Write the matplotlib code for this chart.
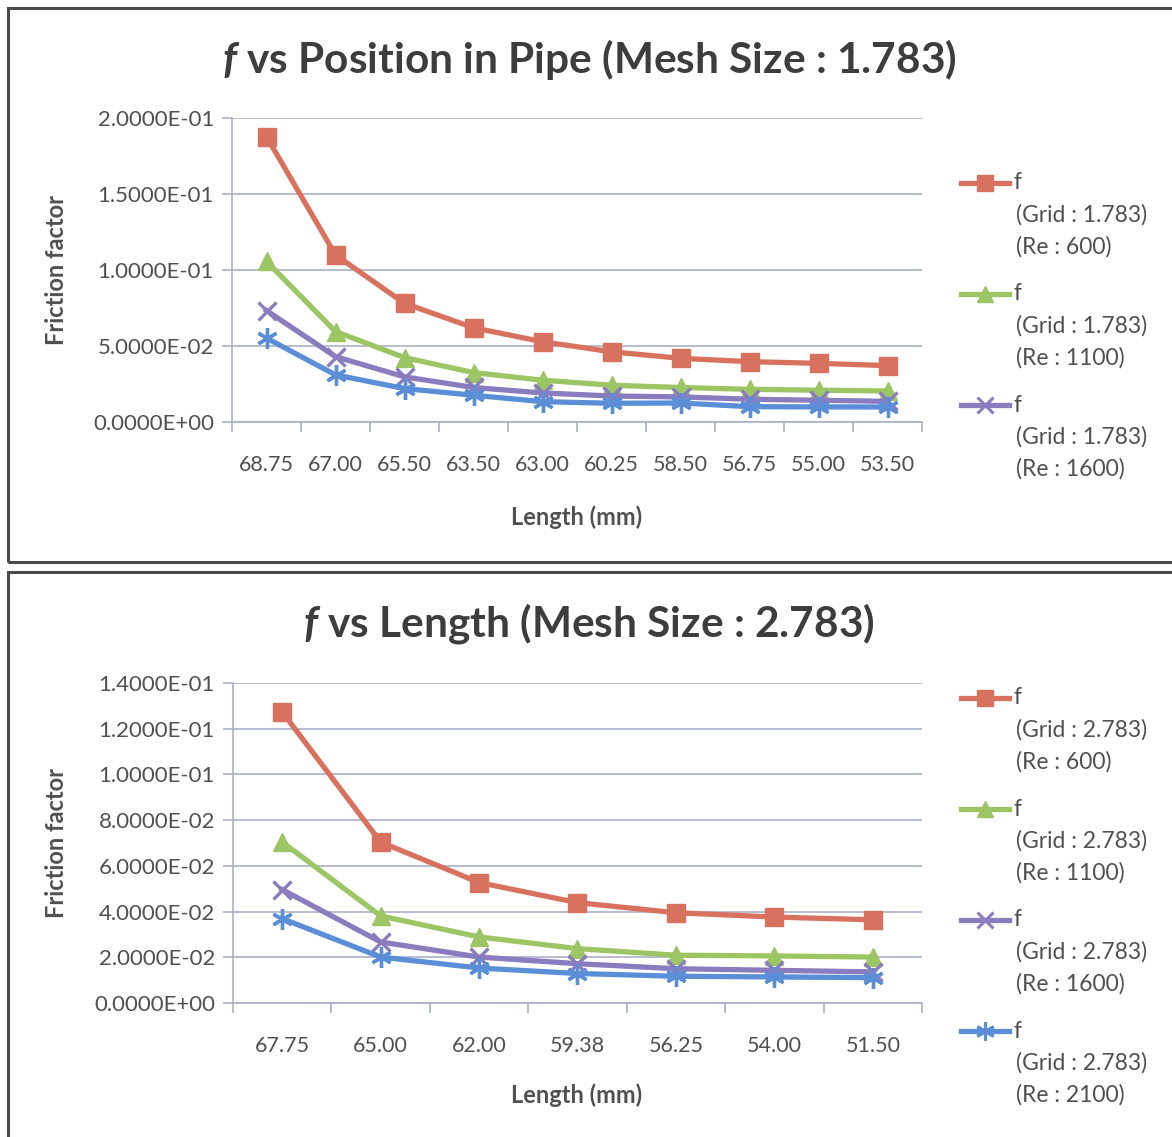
import matplotlib
matplotlib.use("Agg")
import matplotlib.pyplot as plt
from matplotlib.lines import Line2D
from matplotlib.patches import Rectangle
from matplotlib.ticker import FuncFormatter, MultipleLocator

plt.rcParams['font.family'] = ['Lato', 'DejaVu Sans']
plt.rcParams['mathtext.fontset'] = 'custom'
plt.rcParams['mathtext.it'] = 'Lato:italic:bold'
plt.rcParams['mathtext.rm'] = 'Lato:bold'

# ---- data: upper chart (mesh 1.783) ----
pos_a = ["68.75", "67.00", "65.50", "63.50", "63.00", "60.25", "58.50", "56.75", "55.00", "53.50"]
f_a_re600 = [0.1877, 0.1099, 0.0781, 0.0620, 0.0528, 0.0462, 0.0419, 0.0397, 0.0386, 0.0371]
f_a_re1100 = [0.1057, 0.0595, 0.0424, 0.0325, 0.0275, 0.0242, 0.0227, 0.0215, 0.0209, 0.0204]
f_a_re1600 = [0.0733, 0.0430, 0.0297, 0.0227, 0.0191, 0.0171, 0.0165, 0.0150, 0.0143, 0.0136]
f_a_re2100 = [0.0552, 0.0310, 0.0220, 0.0176, 0.0134, 0.0123, 0.0125, 0.0101, 0.0099, 0.0099]

# ---- data: lower chart (mesh 2.783) ----
pos_b = ["67.75", "65.00", "62.00", "59.38", "56.25", "54.00", "51.50"]
f_b_re600 = [0.1273, 0.0704, 0.0527, 0.0439, 0.0395, 0.0376, 0.0364]
f_b_re1100 = [0.0704, 0.0381, 0.0289, 0.0238, 0.0209, 0.0206, 0.0201]
f_b_re1600 = [0.0496, 0.0267, 0.0201, 0.0172, 0.0150, 0.0143, 0.0136]
f_b_re2100 = [0.0369, 0.0201, 0.0153, 0.0129, 0.0117, 0.0114, 0.0111]

reynolds = ["600", "1100", "1600", "2100"]

RED, GREEN, PURPLE, BLUE = '#D8725F', '#9CC564', '#8A7CBF', '#5A8FD8'
colors = [RED, GREEN, PURPLE, BLUE]
markers = ['s', '^', 'x', (6, 2, 0)]
msizes = [13.5, 13, 13, 15]
GRID = '#A9B1C9'
TXT = '#505050'

W, H = 1172, 1137
fig = plt.figure(figsize=(W / 100, H / 100), dpi=100)
fig.patch.set_facecolor('white')


def fx(px):
    return px / W


def fy(py):
    return 1 - py / H


# chart frames
fig.add_artist(Rectangle((fx(8), fy(562)), 1.2, (562 - 8) / H, transform=fig.transFigure,
                         fill=False, edgecolor='#4a4a4a', linewidth=2.2, clip_on=False))
fig.add_artist(Rectangle((fx(8), -0.2), 1.2, fy(572) + 0.2, transform=fig.transFigure,
                         fill=False, edgecolor='#4a4a4a', linewidth=2.2, clip_on=False))


def sci(v, _):
    return "{:.4E}".format(v)


def draw_chart(box, cats, series, ymax, ystep, title, title_y, grid_label, n_legend,
               legend_top, xlabel_y, ylabel_y):
    l, t, r, b = box
    ax = fig.add_axes([fx(l), fy(b), (r - l) / W, (b - t) / H])
    x = list(range(len(cats)))
    for k, vals in enumerate(series):
        mew = 2.4 if k >= 2 else 1
        ax.plot(x, vals, color=colors[k], lw=3.8, marker=markers[k], ms=msizes[k],
                mfc=colors[k], mec=colors[k], mew=mew, solid_joinstyle='round', zorder=3)
    ax.set_xlim(-0.5, len(cats) - 0.5)
    ax.set_ylim(0, ymax)
    ax.yaxis.set_major_locator(MultipleLocator(ystep))
    ax.yaxis.set_major_formatter(FuncFormatter(sci))
    ax.set_xticks(x)
    ax.set_xticklabels(cats)
    ax.set_xticks([i - 0.5 for i in range(len(cats) + 1)], minor=True)
    ax.tick_params(axis='x', which='major', length=0, pad=24, labelsize=15.5, labelcolor=TXT)
    ax.tick_params(axis='x', which='minor', length=7, color=GRID, width=1.2)
    ax.tick_params(axis='y', length=7, color=GRID, width=1.2, labelsize=16, labelcolor=TXT, pad=6)
    ax.grid(axis='y', color=GRID, lw=1.2)
    ax.set_axisbelow(True)
    for s in ('top', 'right'):
        ax.spines[s].set_visible(False)
    for s in ('left', 'bottom'):
        ax.spines[s].set_color(GRID)
        ax.spines[s].set_linewidth(1.2)
    fig.text(fx(589), fy(title_y), title, ha='center', va='center', fontsize=30.5,
             fontweight='bold', color='#3d3d3d')
    fig.text(fx(577), fy(xlabel_y), "Length (mm)", ha='center', va='center', fontsize=17,
             fontweight='bold', color=TXT)
    fig.text(fx(57), fy(ylabel_y), "Friction factor", ha='center', va='center', fontsize=17,
             fontweight='bold', color=TXT, rotation=90)
    # legend entries
    for k in range(n_legend):
        y0 = legend_top + k * 111
        fig.add_artist(Line2D([fx(961), fx(1009)], [fy(y0), fy(y0)], transform=fig.transFigure,
                              color=colors[k], lw=3.8, marker=None))
        fig.add_artist(Line2D([fx(985)], [fy(y0)], transform=fig.transFigure,
                              color=colors[k], marker=markers[k], ms=msizes[k] - 1.5,
                              mfc=colors[k], mec=colors[k], mew=2.2 if k >= 2 else 1, lw=0))
        fig.text(fx(1014), fy(y0), "f", ha='left', va='center', fontsize=16.5, color=TXT)
        fig.text(fx(1016), fy(y0 + 32), "(Grid : %s)" % grid_label, ha='left', va='center',
                 fontsize=16.5, color=TXT)
        fig.text(fx(1016), fy(y0 + 64), "(Re : %s)" % reynolds[k], ha='left', va='center',
                 fontsize=16.5, color=TXT)
    return ax


draw_chart((232, 118, 922, 422), pos_a, [f_a_re600, f_a_re1100, f_a_re1600, f_a_re2100],
           0.2, 0.05, r'$\mathit{f}$ vs Position in Pipe (Mesh Size : 1.783)', 60, "1.783", 3,
           183, 517, 270)
draw_chart((233, 683, 922, 1003), pos_b, [f_b_re600, f_b_re1100, f_b_re1600, f_b_re2100],
           0.14, 0.02, r'$\mathit{f}$ vs Length (Mesh Size : 2.783)', 623, "2.783", 4,
           698, 1095, 843)

fig.savefig("out.png", dpi=100, facecolor='white')
